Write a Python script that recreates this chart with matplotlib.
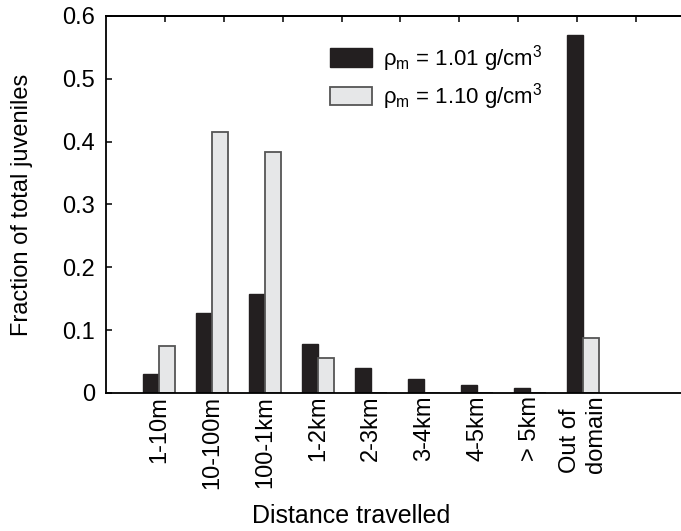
import matplotlib
matplotlib.use("Agg")
import matplotlib.pyplot as plt
import numpy as np

plt.rcParams['font.family'] = ['Liberation Sans', 'DejaVu Sans']
plt.rcParams['mathtext.fontset'] = 'custom'
plt.rcParams['mathtext.rm'] = 'Liberation Sans'
plt.rcParams['mathtext.it'] = 'Liberation Sans'

# distance classes and fractions
categories = ["1-10m", "10-100m", "100-1km", "1-2km", "2-3km", "3-4km",
              "4-5km", "> 5km", "Out of\ndomain"]
rho_101 = [0.030, 0.127, 0.157, 0.078, 0.039, 0.023, 0.012, 0.008, 0.569]
rho_110 = [0.075, 0.415, 0.383, 0.056, 0.0, 0.0, 0.0, 0.0, 0.088]
yticks = [0, 0.1, 0.2, 0.3, 0.4, 0.5, 0.6]
ytick_labels = ["0", "0.1", "0.2", "0.3", "0.4", "0.5", "0.6"]

fig = plt.figure(figsize=(6.81, 5.31), dpi=100)
ax = fig.add_axes([0.1557, 0.2599, 0.8722, 0.71])

x = np.arange(1, len(categories) + 1)
w = 0.3
ax.bar(x - w/2, rho_101, w, color="#231f20", edgecolor="#231f20", linewidth=1.0,
       label=r"ρ$_{\mathrm{m}}$ = 1.01 g/cm$^3$")
ax.bar(x + w/2, rho_110, w, color="#e6e7e8", edgecolor="#555555", linewidth=1.3,
       label=r"ρ$_{\mathrm{m}}$ = 1.10 g/cm$^3$")

ax.set_xlim(0, 594/53)
ax.set_ylim(0, 0.6)
ax.set_xticks(x)
ax.set_xticklabels(categories, rotation=90, fontsize=17, va="top", ha="center",
                   multialignment="left")
ax.tick_params(axis="x", length=0, pad=2)
ax.set_yticks(yticks)
ax.set_yticklabels(ytick_labels, fontsize=17)
ax.tick_params(axis="y", direction="in", length=4, width=1.1, pad=8)

for s in ["left", "bottom", "top"]:
    ax.spines[s].set_linewidth(1.3)
ax.spines["right"].set_visible(False)

# ticks along the top edge
top = ax.secondary_xaxis("top")
top.set_xticks([10*k/9 for k in range(1, 11)])
top.set_xticklabels([])
top.tick_params(direction="in", length=4, width=1.1)
top.spines["top"].set_linewidth(1.3)

ax.set_xlabel("Distance travelled", fontsize=18)
ax.xaxis.set_label_coords((351-106)/594, -0.295)
ax.set_ylabel("Fraction of total juveniles", fontsize=17)
ax.yaxis.set_label_coords(-0.123, 0.5)

ax.legend(loc="upper left", bbox_to_anchor=((314-106)/594, 0.97), frameon=False,
          fontsize=16, handlelength=1.9, handleheight=0.9, handletextpad=0.5,
          labelspacing=0.35, borderpad=0.2)

plt.savefig("out.png", dpi=100)
